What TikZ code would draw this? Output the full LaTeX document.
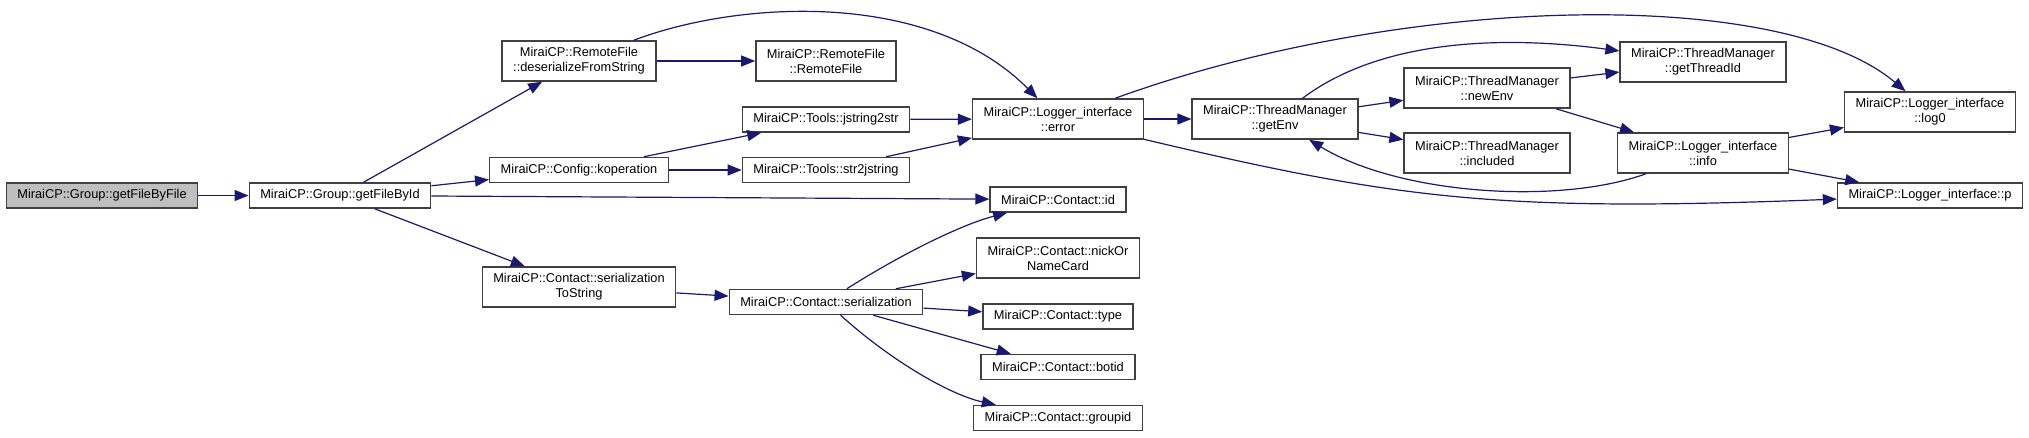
\documentclass[tikz,border=0pt]{standalone}
\usepackage{fontspec}
\setmainfont{Liberation Sans}
\usepackage{tikz}
\usetikzlibrary{arrows.meta}
\definecolor{edgeblue}{HTML}{191970}
\definecolor{boxline}{HTML}{404040}
\definecolor{rootgray}{HTML}{BFBFBF}
\tikzset{fn/.style={draw=boxline, line width=1.5pt, fill=white, align=center, inner xsep=11pt, inner ysep=0pt, minimum height=25pt, font=\fontsize{12.8}{15}\selectfont}}
\tikzset{fntwo/.style={fn, minimum height=40pt}}
\tikzset{call/.style={draw=edgeblue, line width=1.2pt, -{Triangle[length=14pt,width=11pt]}}}

\begin{document}
\begin{tikzpicture}[x=1pt, y=-1pt]
            \useasboundingbox (0, 0) rectangle (2029, 437);
            % left side
            \node[fn, fill=rootgray] (getfilebyfile) at (102, 195.5) {MiraiCP::Group::getFileByFile};
            \node[fn] (getfilebyid) at (340, 195.5) {MiraiCP::Group::getFileById};
            \node[fntwo] (deserialize) at (579, 61) {MiraiCP::RemoteFile\\::deserializeFromString};
            \node[fn] (koperation) at (579, 170) {MiraiCP::Config::koperation};
            \node[fntwo] (sertostring) at (579, 287) {MiraiCP::Contact::serialization\\ToString};
            % middle
            \node[fntwo] (remotefile) at (826, 61) {MiraiCP::RemoteFile\\::RemoteFile};
            \node[fn] (jstring2str) at (826, 119.5) {MiraiCP::Tools::jstring2str};
            \node[fn] (str2jstring) at (826, 170) {MiraiCP::Tools::str2jstring};
            \node[fn] (serialization) at (826, 302) {MiraiCP::Contact::serialization};
            \node[fntwo] (error) at (1058, 119) {MiraiCP::Logger\_interface\\::error};
            \node[fn] (contactid) at (1058, 199.5) {MiraiCP::Contact::id};
            \node[fntwo] (nickorname) at (1058, 258) {MiraiCP::Contact::nickOr\\NameCard};
            \node[fn] (contacttype) at (1058, 316.5) {MiraiCP::Contact::type};
            \node[fn] (botid) at (1058, 367) {MiraiCP::Contact::botid};
            \node[fn] (groupid) at (1058, 418) {MiraiCP::Contact::groupid};
            % right side
            \node[fntwo] (getenv) at (1275, 119) {MiraiCP::ThreadManager\\::getEnv};
            \node[fntwo] (newenv) at (1487, 88) {MiraiCP::ThreadManager\\::newEnv};
            \node[fntwo] (included) at (1487, 153) {MiraiCP::ThreadManager\\::included};
            \node[fntwo] (getthreadid) at (1703, 62) {MiraiCP::ThreadManager\\::getThreadId};
            \node[fntwo] (info) at (1703, 153) {MiraiCP::Logger\_interface\\::info};
            \node[fntwo] (logzero) at (1930, 112) {MiraiCP::Logger\_interface\\::log0};
            \node[fn] (loggerp) at (1930, 195.5) {MiraiCP::Logger\_interface::p};

            \foreach \src/\dst in {getfilebyfile/getfilebyid, getfilebyid/deserialize, getfilebyid/koperation,
                getfilebyid/contactid, getfilebyid/sertostring, deserialize/remotefile, koperation/jstring2str,
                koperation/str2jstring, jstring2str/error, str2jstring/error, error/getenv, getenv/newenv,
                getenv/included, newenv/getthreadid, newenv/info, info/logzero, info/loggerp,
                sertostring/serialization, serialization/nickorname, serialization/contacttype, serialization/botid} {
                \draw[call] (\src) -- (\dst);
            }
            % curved calls
            \draw[call] (deserialize) .. controls (740, 0) and (930, -10) .. (error);
            \draw[call] (error) .. controls (1400, -5) and (1780, -15) .. (logzero);
            \draw[call] (error) .. controls (1400, 200) and (1500, 212) .. (loggerp);
            \draw[call] (getenv) .. controls (1380, 40) and (1500, 35) .. (getthreadid);
            \draw[call] (info) .. controls (1560, 205) and (1400, 195) .. (getenv);
            \draw[call] (serialization) .. controls (900, 255) and (960, 225) .. (contactid);
            \draw[call] (serialization) .. controls (890, 360) and (950, 395) .. (groupid);
        \end{tikzpicture}
\end{document}
